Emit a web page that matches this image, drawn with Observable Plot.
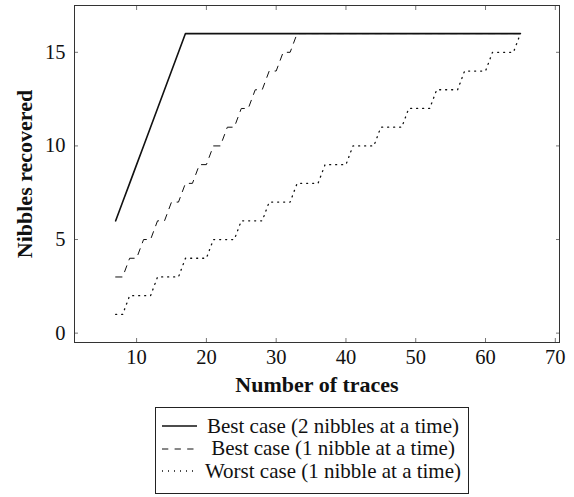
<!DOCTYPE html>
<html><head><meta charset="utf-8">
<script src="https://cdn.jsdelivr.net/npm/d3@7"></script>
<script src="https://cdn.jsdelivr.net/npm/@observablehq/plot@0.6"></script>
<style>
body{margin:0;background:#fff;font-family:"Liberation Serif","Times New Roman",serif;}
#wrap{position:relative;width:574px;height:497px;}
#legend{position:absolute;left:155px;top:407px;width:314px;height:87px;border:1px solid #222;box-sizing:border-box;padding-top:7px;}
.row{display:flex;align-items:center;height:22.5px;}
.row svg{margin-left:6px;flex:none;}
.row span{flex:1;text-align:center;font-size:21px;color:#111;white-space:nowrap;}
</style></head>
<body><div id="wrap"><div id="chart"></div><div id="legend"></div></div>
<script>
const traces = [7,8,9,10,11,12,13,14,15,16,17,18,19,20,21,22,23,24,25,26,27,28,29,30,31,32,33,34,35,36,37,38,39,40,41,42,43,44,45,46,47,48,49,50,51,52,53,54,55,56,57,58,59,60,61,62,63,64,65];
const bestTwo = [6,7,8,9,10,11,12,13,14,15,16,
  16,16,16,16,16,16,16,16,16,16,16,16,
  16,16,16,16,16,16,16,16,16,16,16,16,
  16,16,16,16,16,16,16,16,16,16,16,16,
  16,16,16,16,16,16,16,16,16,16,16,16];
const bestOne = [3,3,4,4,5,5,6,6,7,7,8,8,9,9,10,10,11,11,12,12,13,13,14,14,15,15,16,
  16,16,16,16,16,16,16,16,16,16,16,16,16,16,16,16,
  16,16,16,16,16,16,16,16,16,16,16,16,16,16,16,16];
const worstOne = [1,1,2,2,2,2,3,3,3,3,4,4,4,4,5,5,5,5,6,6,6,6,7,7,7,7,8,8,8,8,9,9,9,9,10,10,10,10,11,11,11,11,12,12,12,12,13,13,13,13,14,14,14,14,15,15,15,15,16];
const xTicks = [10,20,30,40,50,60,70];
const yTicks = [0,5,10,15];
const seriesNames = ["Best case (2 nibbles at a time)","Best case (1 nibble at a time)","Worst case (1 nibble at a time)"];
const dashes = [null, "6.3,6.3", "1,5"];
const widths = [1.6, 1.0, 1.3];
const xLabel = "Number of traces";
const yLabel = "Nibbles recovered";

const toRows = arr => traces.map((t, i) => ({t, v: arr[i]}));
const dTwo = toRows(bestTwo), dOne = toRows(bestOne), dWorst = toRows(worstOne);
const ink = "#111";
const tickInk = "#777";
const noText = () => "";

const chart = Plot.plot({
  width: 574, height: 400,
  marginLeft: 74, marginRight: 15, marginTop: 5, marginBottom: 58,
  x: {domain: [1.1, 70.6]},
  y: {domain: [-0.5, 17.5]},
  style: {fontFamily: "'Liberation Serif', 'Times New Roman', serif", fontSize: "20px", color: ink, background: "white"},
  marks: [
    Plot.axisX(xTicks, {anchor: "bottom", tickSize: 0, tickPadding: 7, label: null, fontSize: 20.5}),
    Plot.axisX(xTicks, {anchor: "bottom", tickSize: -4, tickFormat: noText, label: null, stroke: tickInk}),
    Plot.axisX(xTicks, {anchor: "top", tickSize: -4, tickFormat: noText, label: null, stroke: tickInk}),
    Plot.axisY(yTicks, {anchor: "left", tickSize: 0, tickPadding: 9, label: null, fontSize: 20.5}),
    Plot.axisY(yTicks, {anchor: "left", tickSize: -4, tickFormat: noText, label: null, stroke: tickInk}),
    Plot.axisY(yTicks, {anchor: "right", tickSize: -4, tickFormat: noText, label: null, stroke: tickInk}),
    Plot.line(dWorst, {x: "t", y: "v", stroke: ink, strokeWidth: widths[2], strokeDasharray: dashes[2]}),
    Plot.line(dOne, {x: "t", y: "v", stroke: ink, strokeWidth: widths[1], strokeDasharray: dashes[1]}),
    Plot.line(dTwo, {x: "t", y: "v", stroke: ink, strokeWidth: widths[0]}),
    Plot.frame({stroke: "#333", strokeWidth: 1}),
    Plot.text([xLabel], {text: d => d, frameAnchor: "bottom", dy: 42, lineAnchor: "middle", textAnchor: "middle", fontWeight: "bold", fontSize: 22, fill: ink}),
    Plot.text([yLabel], {text: d => d, frameAnchor: "left", dx: -50, rotate: -90, textAnchor: "middle", lineAnchor: "middle", fontWeight: "bold", fontSize: 22, fill: ink})
  ]
});
document.getElementById("chart").appendChild(chart);

const legend = document.getElementById("legend");
seriesNames.forEach((name, i) => {
  const row = document.createElement("div");
  row.className = "row";
  const ns = "http://www.w3.org/2000/svg";
  const svg = document.createElementNS(ns, "svg");
  svg.setAttribute("width", 36); svg.setAttribute("height", 10);
  const ln = document.createElementNS(ns, "line");
  ln.setAttribute("x1", 0); ln.setAttribute("x2", 35); ln.setAttribute("y1", 5); ln.setAttribute("y2", 5);
  ln.setAttribute("stroke", ink); ln.setAttribute("stroke-width", widths[i]);
  if (dashes[i]) ln.setAttribute("stroke-dasharray", dashes[i]);
  svg.appendChild(ln);
  const sp = document.createElement("span");
  sp.textContent = name;
  row.appendChild(svg); row.appendChild(sp);
  legend.appendChild(row);
});
</script>
</body></html>
